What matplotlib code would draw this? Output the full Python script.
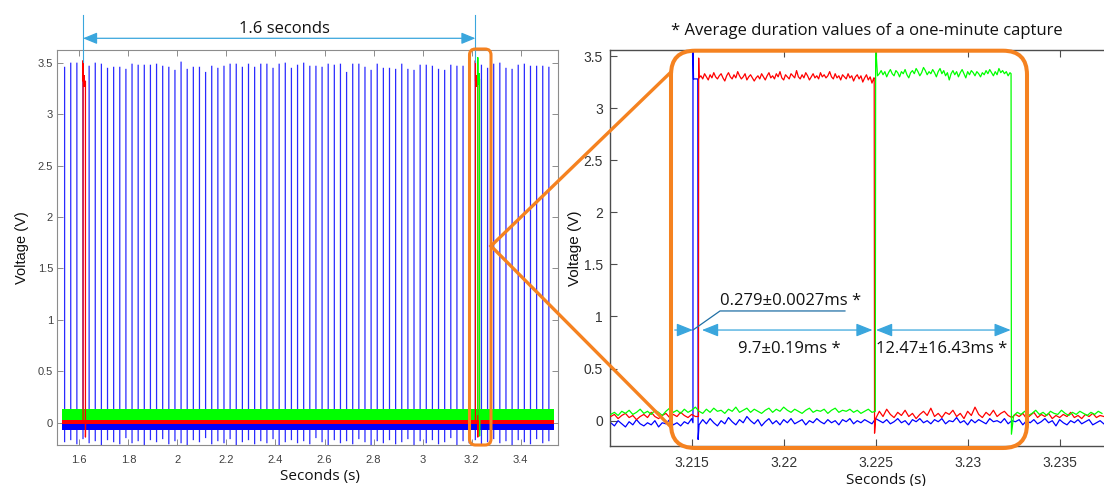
import numpy as np
import matplotlib.pyplot as plt
from matplotlib.patches import FancyBboxPatch
from matplotlib.lines import Line2D
from matplotlib.ticker import FuncFormatter
import matplotlib.transforms as mtransforms

# ---------------- overview (left panel) ----------------
pulse_start = 1.540     # first blue pulse (s)
pulse_period = 0.025    # blue pulses every 25 ms
blue_tops = [3.46, 3.50, 3.50, 3.48, 3.47, 3.50, 3.49, 3.45, 3.46, 3.46,
             3.44, 3.49, 3.48, 3.48, 3.48, 3.49, 3.47, 3.46, 3.43, 3.51,
             3.44, 3.46, 3.46, 3.41, 3.47, 3.45, 3.47, 3.49, 3.49, 3.46,
             3.49, 3.46, 3.49, 3.49, 3.45, 3.49, 3.50, 3.45, 3.48, 3.50,
             3.47, 3.47, 3.46, 3.49, 3.48, 3.49, 3.41, 3.49, 3.49, 3.46,
             3.43, 3.49, 3.45, 3.45, 3.44, 3.49, 3.44, 3.43, 3.48, 3.48,
             3.47, 3.44, 3.43, 3.48, 3.47, 3.47, 3.46, 3.52, 3.48, 3.45,
             3.49, 3.50, 3.45, 3.44, 3.48, 3.49, 3.47, 3.47, 3.47, 3.46]
blue_bottoms = [-0.19, -0.17, -0.21, -0.16, -0.20, -0.18, -0.22, -0.17, -0.19, -0.21,
                -0.15, -0.20, -0.18, -0.22, -0.17, -0.19, -0.16, -0.21, -0.18, -0.20,
                -0.22, -0.17, -0.19, -0.15, -0.21, -0.18, -0.20, -0.16, -0.22, -0.19,
                -0.17, -0.21, -0.18, -0.20, -0.16, -0.22, -0.19, -0.17, -0.20, -0.18,
                -0.21, -0.15, -0.19, -0.22, -0.17, -0.20, -0.18, -0.21, -0.16, -0.19,
                -0.22, -0.18, -0.20, -0.17, -0.21, -0.19, -0.16, -0.22, -0.18, -0.20,
                -0.17, -0.21, -0.19, -0.15, -0.22, -0.18, -0.20, -0.17, -0.21, -0.19,
                -0.16, -0.20, -0.18, -0.22, -0.17, -0.19, -0.21, -0.16, -0.20, -0.18]
trace_span = (1.531, 3.537)
band_blue = (-0.075, -0.005)
band_red = (-0.012, 0.022)
band_green = (0.025, 0.13)

red_rises = [1.6153, 3.2154]
red_width = 0.0097
red_high = (3.26, 3.38)
red_spike = 3.52
red_under = -0.14
green_rise = 3.2250
green_fall = 3.2324
green_high = (3.28, 3.40)
green_spike = 3.55
green_under = -0.13

left_xticks = [1.6, 1.8, 2.0, 2.2, 2.4, 2.6, 2.8, 3.0, 3.2, 3.4]
yticks = [0, 0.5, 1, 1.5, 2, 2.5, 3, 3.5]
right_xticks = [3.215, 3.22, 3.225, 3.23, 3.235]

# ---------------- zoom (right panel) ----------------
blue_pre = (3.2106, 3.2150, [-0.02, -0.05, 0.00, -0.03, -0.06, -0.01, -0.04, 0.01, -0.03, -0.05,
                             -0.02, -0.04, 0.00, -0.06, -0.02, -0.03, 0.01, -0.04, -0.02, -0.05,
                             -0.01, -0.03, 0.02])
blue_edge_t = [3.21507, 3.21507, 3.21510, 3.21533, 3.21535]
blue_edge_v = [-0.02, 3.60, 3.28, 3.28, -0.18]
blue_post = (3.2154, 3.2374, [-0.04, 0.01, -0.03, 0.02, -0.02, -0.05, 0.00, -0.03, 0.03, -0.01,
                              -0.04, 0.01, -0.02, 0.04, 0.00, -0.03, 0.01, -0.05, -0.01, 0.02,
                              -0.03, 0.00, -0.04, 0.01, -0.02, 0.02, -0.03, -0.01, 0.01, -0.04,
                              0.00, -0.02, 0.02, -0.01, -0.03, 0.01, -0.02, 0.00, -0.04, 0.01,
                              -0.01, 0.02, -0.03, 0.00, -0.02, 0.01, -0.01, -0.03, 0.02, 0.00,
                              -0.02, 0.01, -0.03, -0.01, 0.02, -0.02, 0.00, -0.04, 0.01, -0.01,
                              0.02, -0.02, 0.00, -0.03, 0.01, -0.01, 0.02, -0.03, 0.00, -0.01,
                              0.03, -0.02, 0.00, -0.04, 0.01, -0.02, 0.01, -0.01, -0.03, 0.02,
                              -0.01, 0.00, -0.02, 0.02, -0.03, 0.00, -0.01, 0.01, -0.04, 0.00,
                              -0.02, 0.01, -0.03, -0.01, 0.02, -0.02, 0.00, -0.05, 0.01, -0.02,
                              -0.04, 0.00, -0.02, 0.01, -0.03, -0.01, 0.01, -0.04, -0.02, 0.00,
                              -0.03])

red_pre = (3.2106, 3.2152, [0.04, 0.06, 0.02, 0.05, 0.07, 0.03, 0.05, 0.01, 0.04, 0.06,
                            0.03, 0.08, 0.04, 0.02, 0.05, 0.07, 0.03, 0.06, 0.04, 0.08,
                            0.05, 0.03, 0.06, 0.04])
red_edge1_t = [3.21537, 3.21538]
red_edge1_v = [0.04, 3.48]
red_on = (3.2154, 3.2249, [3.29, 3.31, 3.28, 3.33, 3.30, 3.27, 3.32, 3.29, 3.34, 3.30,
                           3.28, 3.31, 3.33, 3.29, 3.26, 3.31, 3.34, 3.30, 3.28, 3.32,
                           3.29, 3.35, 3.31, 3.28, 3.30, 3.33, 3.27, 3.30, 3.32, 3.29,
                           3.26, 3.29, 3.31, 3.28, 3.33, 3.30, 3.27, 3.31, 3.34, 3.29,
                           3.31, 3.28, 3.33, 3.30, 3.35, 3.29, 3.27, 3.32, 3.30, 3.28,
                           3.33, 3.31, 3.29, 3.36, 3.30, 3.28, 3.32, 3.29, 3.34, 3.31,
                           3.27, 3.30, 3.33, 3.29, 3.31, 3.28, 3.34, 3.30, 3.32, 3.29,
                           3.31, 3.35, 3.30, 3.28, 3.33, 3.29, 3.31, 3.27, 3.32, 3.30,
                           3.28, 3.33, 3.29, 3.31, 3.26, 3.30, 3.32, 3.28, 3.31, 3.25,
                           3.29, 3.32, 3.27, 3.30, 3.24, 3.29])
red_edge2_t = [3.22492, 3.22494]
red_edge2_v = [3.29, -0.12]
red_post = (3.2250, 3.2374, [0.02, 0.09, 0.04, 0.11, 0.06, 0.03, 0.08, 0.05, 0.10, 0.04,
                             0.07, 0.02, 0.06, 0.09, 0.05, 0.12, 0.04, 0.07, 0.03, 0.08,
                             0.06, 0.10, 0.04, 0.07, 0.02, 0.09, 0.05, 0.13, 0.06, 0.03,
                             0.08, 0.05, 0.10, 0.04, 0.07, 0.09, 0.05, 0.03, 0.06, 0.04,
                             0.07, 0.02, 0.05, 0.08, 0.03, 0.06, 0.04, 0.07, 0.02, 0.05,
                             0.03, 0.06, 0.04, 0.08, 0.03, 0.05, 0.02, 0.06, 0.04, 0.07,
                             0.03, 0.05, 0.04])

green_pre = (3.2106, 3.2248, [0.06, 0.08, 0.05, 0.09, 0.07, 0.10, 0.06, 0.08, 0.11, 0.07,
                              0.09, 0.06, 0.10, 0.08, 0.05, 0.09, 0.12, 0.08, 0.10, 0.07,
                              0.11, 0.08, 0.10, 0.13, 0.09, 0.07, 0.11, 0.08, 0.12, 0.09,
                              0.10, 0.07, 0.11, 0.09, 0.13, 0.08, 0.10, 0.12, 0.08, 0.11,
                              0.09, 0.07, 0.10, 0.12, 0.08, 0.11, 0.09, 0.13, 0.10, 0.08,
                              0.11, 0.09, 0.07, 0.10, 0.12, 0.08, 0.10, 0.09, 0.11, 0.07,
                              0.10, 0.12, 0.08, 0.10, 0.09, 0.11, 0.08, 0.10, 0.07, 0.09,
                              0.11, 0.08])
green_edge1_t = [3.22498, 3.22500]
green_edge1_v = [0.09, 3.60]
green_on = (3.2251, 3.2323, [3.31, 3.33, 3.36, 3.32, 3.35, 3.30, 3.34, 3.37, 3.33, 3.31,
                             3.36, 3.34, 3.30, 3.35, 3.33, 3.37, 3.32, 3.29, 3.34, 3.36,
                             3.33, 3.38, 3.35, 3.31, 3.34, 3.39, 3.36, 3.32, 3.35, 3.33,
                             3.37, 3.34, 3.30, 3.35, 3.38, 3.33, 3.36, 3.31, 3.34, 3.27,
                             3.33, 3.36, 3.32, 3.35, 3.30, 3.34, 3.37, 3.33, 3.29, 3.35,
                             3.32, 3.36, 3.34, 3.31, 3.35, 3.33, 3.30, 3.34, 3.32, 3.36,
                             3.33, 3.37, 3.34, 3.31, 3.35, 3.32, 3.38, 3.34, 3.36, 3.33,
                             3.35, 3.31, 3.34])
green_edge2_t = [3.23236, 3.23238]
green_edge2_v = [3.33, -0.13]
green_post = (3.2325, 3.2373, [0.05, 0.08, 0.06, 0.09, 0.05, 0.07, 0.10, 0.06, 0.08, 0.05,
                               0.09, 0.07, 0.06, 0.10, 0.07, 0.05, 0.08, 0.06, 0.09, 0.07,
                               0.05, 0.08, 0.06, 0.09, 0.07])

arrow_v = 0.87
ann_pulse = ("0.279\u00b10.0027ms *", 3.2204, 1.15)
ann_red = ("9.7\u00b10.19ms *", 3.2203, 0.69)
ann_green = ("12.47\u00b116.43ms *", 3.2286, 0.69)

BLUE, RED, GREEN = '#0000ff', '#ff0000', '#00ff00'
ORANGE = '#f58220'
ARROW = '#3aa6dd'
TEXTFONT = 'Open Sans'
TICKFONT = 'Liberation Sans'


def segment(seg):
    t0, t1, vals = seg
    return np.linspace(t0, t1, len(vals)), np.array(vals)


def join(*parts):
    ts, vs = [], []
    for t, v in parts:
        ts.append(np.asarray(t, dtype=float))
        vs.append(np.asarray(v, dtype=float))
    return np.concatenate(ts), np.concatenate(vs)


W, H = 1104, 486
fig = plt.figure(figsize=(W / 100, H / 100), dpi=100)
ax1 = fig.add_axes([57.3 / W, 41 / H, 500.4 / W, 395 / H])
ax2 = fig.add_axes([610 / W, 40 / H, 551 / W, 396 / H])

fmt = FuncFormatter(lambda v, p: '%g' % round(v, 4))

# ---- left panel ----
pulse_t = pulse_start + pulse_period * np.arange(len(blue_tops))
pulses = ax1.vlines(pulse_t, blue_bottoms, blue_tops, color='#2a2aff', lw=0.9, zorder=2)
pulses.set_snap(False)
ax1.fill_between(trace_span, *band_blue, color=BLUE, lw=0, zorder=3)
ax1.fill_between(trace_span, *band_red, color=RED, lw=0, zorder=3)
for t in red_rises:
    tf = t + red_width
    ax1.plot([t, t, t + 0.0004, tf, tf, tf + 0.0004],
             [0.0, red_spike, np.mean(red_high), np.mean(red_high), red_under, 0.0],
             color=RED, lw=0.9, zorder=4)
    ax1.fill_between([t, tf], *red_high, color=RED, lw=0, zorder=4)
ax1.fill_between(trace_span, *band_green, color=GREEN, lw=0, zorder=3)
ax1.plot([green_rise, green_rise, green_rise + 0.0004, green_fall, green_fall, green_fall + 0.0004],
         [0.08, green_spike, np.mean(green_high), np.mean(green_high), green_under, 0.05],
         color=GREEN, lw=0.9, zorder=5)
ax1.fill_between([green_rise, green_fall], *green_high, color=GREEN, lw=0, zorder=5)

ax1.set_xlim(1.5102, 3.551)
ax1.set_ylim(-0.217, 3.623)
ax1.set_xticks(left_xticks)
ax1.set_yticks(yticks)
ax1.xaxis.set_major_formatter(fmt)
ax1.yaxis.set_major_formatter(fmt)
ax1.tick_params(direction='in', length=4, width=0.6, color='#7a7a7a',
                top=True, right=True, labelsize=8, labelcolor='#404040')
ax1.tick_params(axis='x', pad=7)
ax1.tick_params(axis='y', pad=3)
for s in ax1.spines.values():
    s.set_color('#8c8c8c')
    s.set_linewidth(0.8)
for lab in ax1.get_xticklabels() + ax1.get_yticklabels():
    lab.set_fontfamily(TICKFONT)

ax1.set_xlabel('Seconds (s)', fontsize=11, family=TEXTFONT, color='#111111')
ax1.xaxis.label.set_va('center')
ax1.xaxis.set_label_coords(0.524, -0.0785)
ax1.set_ylabel('Voltage (V)', fontsize=10.5, family=TICKFONT, color='#111111')
ax1.yaxis.label.set_va('center')
ax1.yaxis.set_label_coords(-0.071, 0.5)

# 1.6 s span marker
blend = mtransforms.blended_transform_factory(ax1.transData, fig.transFigure)
for t in red_rises:
    ax1.plot([t, t], [471 / H, 424 / H], color=ARROW, lw=0.8, transform=blend,
             clip_on=False, zorder=6)
ax1.annotate('', xy=(red_rises[1], 447.7), xytext=(red_rises[0], 447.7),
             xycoords=('data', 'figure pixels'), textcoords=('data', 'figure pixels'),
             arrowprops=dict(arrowstyle='<|-|>,head_length=0.85,head_width=0.35',
                             color=ARROW, lw=0.9, shrinkA=0, shrinkB=0, mutation_scale=10),
             annotation_clip=False)
fig.text(284.5 / W, 456.7 / H, '1.6 seconds', ha='center', va='center',
         fontsize=12, family=TEXTFONT, color='#111111')

# ---- right panel ----
bt, bv = join(segment(blue_pre), (blue_edge_t, blue_edge_v), segment(blue_post))
rt, rv = join(segment(red_pre), (red_edge1_t, red_edge1_v), segment(red_on),
              (red_edge2_t, red_edge2_v), segment(red_post))
gt, gv = join(segment(green_pre), (green_edge1_t, green_edge1_v), segment(green_on),
              (green_edge2_t, green_edge2_v), segment(green_post))
ax2.plot(bt, bv, color=BLUE, lw=0.9, zorder=2)
ax2.plot(rt, rv, color=RED, lw=0.9, zorder=3)
ax2.plot(gt, gv, color=GREEN, lw=0.9, zorder=4)

ax2.set_xlim(3.21056, 3.24051)
ax2.set_ylim(-0.243, 3.5576)
ax2.set_xticks(right_xticks)
ax2.set_yticks(yticks)
ax2.xaxis.set_major_formatter(fmt)
ax2.yaxis.set_major_formatter(fmt)
ax2.tick_params(direction='in', length=5, width=0.8, color='#4d4d4d',
                top=True, right=False, labelsize=10, labelcolor='#333333')
ax2.tick_params(axis='x', pad=7.5)
ax2.tick_params(axis='y', pad=5)
for s in ax2.spines.values():
    s.set_color('#4d4d4d')
    s.set_linewidth(1.0)
for lab in ax2.get_xticklabels() + ax2.get_yticklabels():
    lab.set_fontfamily(TICKFONT)
ax2.set_xlabel('Seconds (s)', fontsize=11, family=TEXTFONT, color='#111111')
ax2.xaxis.label.set_va('center')
ax2.xaxis.set_label_coords(0.5, -0.086)
ax2.set_ylabel('Voltage (V)', fontsize=11, family=TICKFONT, color='#111111')
ax2.yaxis.label.set_va('center')
ax2.yaxis.set_label_coords(-0.0635, 0.5)

# duration arrows
head = dict(color=ARROW, lw=0.9, shrinkA=0, shrinkB=0, mutation_scale=10)
ax2.annotate('', xy=(blue_edge_t[0], arrow_v), xytext=(3.21408, arrow_v),
             arrowprops=dict(arrowstyle='-|>,head_length=1.0,head_width=0.4', **head))
ax2.annotate('', xy=(3.21556, arrow_v), xytext=(red_edge2_t[0] - 0.00009, arrow_v),
             arrowprops=dict(arrowstyle='<|-|>,head_length=1.0,head_width=0.4', **head))
ax2.annotate('', xy=(green_edge1_t[1] + 0.00002, arrow_v), xytext=(green_edge2_t[0] - 0.00002, arrow_v),
             arrowprops=dict(arrowstyle='<|-|>,head_length=1.0,head_width=0.4', **head))
ax2.plot([blue_edge_t[0], 3.21654, 3.22333], [arrow_v, 1.053, 1.053],
         color='#1f6fa5', lw=0.9, zorder=5)
for txt, x, y in (ann_pulse, ann_red, ann_green):
    ax2.text(x, y, txt, ha='center', va='center', fontsize=12, family=TEXTFONT,
             color='#111111', zorder=6)

fig.text(867 / W, 455 / H, '* Average duration values of a one-minute capture',
         ha='center', va='center', fontsize=12, family=TEXTFONT, color='#111111')

# ---- orange callout ----
inch = fig.dpi_scale_trans
big = FancyBboxPatch((671 / 100, 38 / 100), 356 / 100, 397.3 / 100,
                     boxstyle='round,pad=0,rounding_size=0.24', transform=inch,
                     fill=False, ec=ORANGE, lw=2.9, zorder=10)
small = FancyBboxPatch((469.5 / 100, 41 / 100), 21.5 / 100, 396 / 100,
                       boxstyle='round,pad=0,rounding_size=0.06', transform=inch,
                       fill=False, ec=ORANGE, lw=2.2, zorder=10)
fig.add_artist(big)
fig.add_artist(small)
for y_end in (72, 427):
    fig.add_artist(Line2D([491 / 100, 671 / 100], [(H - 246) / 100, (H - y_end) / 100],
                          transform=inch, color=ORANGE, lw=2.4, zorder=10))

fig.savefig('out.png', dpi=100)
